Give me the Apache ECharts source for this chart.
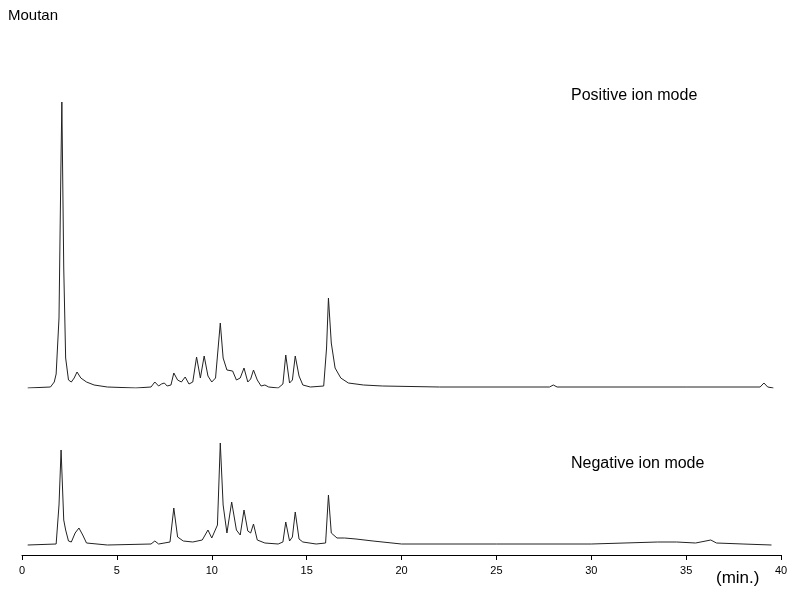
<!DOCTYPE html>
<html><head><meta charset="utf-8">
<script src="https://cdn.jsdelivr.net/npm/echarts@6/dist/echarts.min.js"></script>
<style>html,body{margin:0;background:#fff}#c{width:800px;height:600px}</style>
</head><body><div id="c"></div>
<script>
// time (min), response (relative)
const posTimes = [0.3,1.5,1.7,1.8,1.95,2.05,2.1,2.2,2.3,2.45,2.6,2.75,2.9,3.1,3.4,3.8,4.5,6.0,6.8,7.0,7.2,7.35,7.5,7.65,7.85,8.0,8.2,8.4,8.6,8.8,9.0,9.2,9.4,9.6,9.8,10.0,10.2,10.45,10.6,10.8,11.1,11.3,11.5,11.7,11.9,12.05,12.2,12.4,12.6,12.8,13.0,13.5,13.75,13.9,14.1,14.25,14.4,14.6,14.8,15.2,15.9,16.05,16.15,16.3,16.5,16.8,17.2,18,19,22,27.8,28,28.2,35,38.9,39.1,39.3,39.6];
const posValues = [0,1,6,14,70,220,286,120,30,8,6,10,16,10,6,3,1,0,1,6,2,4,5,2,3,15,8,6,11,4,6,31,10,32,12,6,10,65,30,18,17,8,10,20,6,9,18,8,2,3,1,0,4,33,5,8,32,12,3,1,2,40,90,45,20,10,5,3,2,1,1,3,1,1,1,5,1,0];
const negTimes = [0.3,1.8,1.95,2.06,2.2,2.3,2.45,2.6,2.8,3.0,3.2,3.4,4.5,6.8,7.0,7.2,7.8,8.0,8.2,8.5,9.0,9.5,9.8,10.0,10.3,10.45,10.6,10.8,11.05,11.3,11.5,11.7,11.9,12.05,12.2,12.4,12.8,13.5,13.75,13.9,14.1,14.25,14.4,14.6,14.8,15.5,16.0,16.15,16.3,16.6,17.0,17.6,18.5,20,25,30,33.5,34.5,35.5,36.3,36.6,38,39.5];
const negValues = [0,1,40,95,25,15,4,3,12,17,10,2,0,1,4,1,3,37,8,4,3,5,15,7,20,102,40,12,43,15,10,35,14,12,21,5,2,1,3,23,4,8,33,6,3,1,2,50,12,7,7,6,4,1,1,1,3,3,2,5,2,1,0];
const xTicks = [0,5,10,15,20,25,30,35,40];

const pos = posTimes.map((t,i)=>[t,posValues[i]]);
const neg = negTimes.map((t,i)=>[t,negValues[i]]);
const chart = echarts.init(document.getElementById('c'));
const font = 'Arial, "Liberation Sans", sans-serif';
chart.setOption({
  animation:false,
  grid:[{left:22,right:19,top:88,height:300},{left:22,right:19,top:405,height:150}],
  xAxis:[
    {gridIndex:0,type:'value',min:0,max:40,show:false},
    {gridIndex:1,type:'value',min:0,max:40,interval:5,
     axisLine:{onZero:false,lineStyle:{color:'#000',width:1}},
     axisTick:{length:5,inside:false,lineStyle:{color:'#000'}},
     splitLine:{show:false},
     axisLabel:{color:'#000',fontSize:11,fontFamily:font,margin:10,
       formatter:v=>xTicks.includes(v)?String(v):''}}
  ],
  yAxis:[
    {gridIndex:0,type:'value',min:0,max:300,show:false},
    {gridIndex:1,type:'value',min:-10,max:140,show:false}
  ],
  series:[
    {type:'line',xAxisIndex:0,yAxisIndex:0,data:pos,showSymbol:false,lineStyle:{color:'#222',width:1}},
    {type:'line',xAxisIndex:1,yAxisIndex:1,data:neg,showSymbol:false,lineStyle:{color:'#222',width:1}}
  ],
  graphic:[
    {type:'text',left:8,top:8,style:{text:'Moutan',font:'15px '+font,fill:'#000'}},
    {type:'text',left:571,top:88,style:{text:'Positive ion mode',font:'16px '+font,fill:'#000'}},
    {type:'text',left:571,top:456,style:{text:'Negative ion mode',font:'16px '+font,fill:'#000'}},
    {type:'text',left:716,top:570,style:{text:'(min.)',font:'17px '+font,fill:'#000'}}
  ]
});
</script></body></html>
